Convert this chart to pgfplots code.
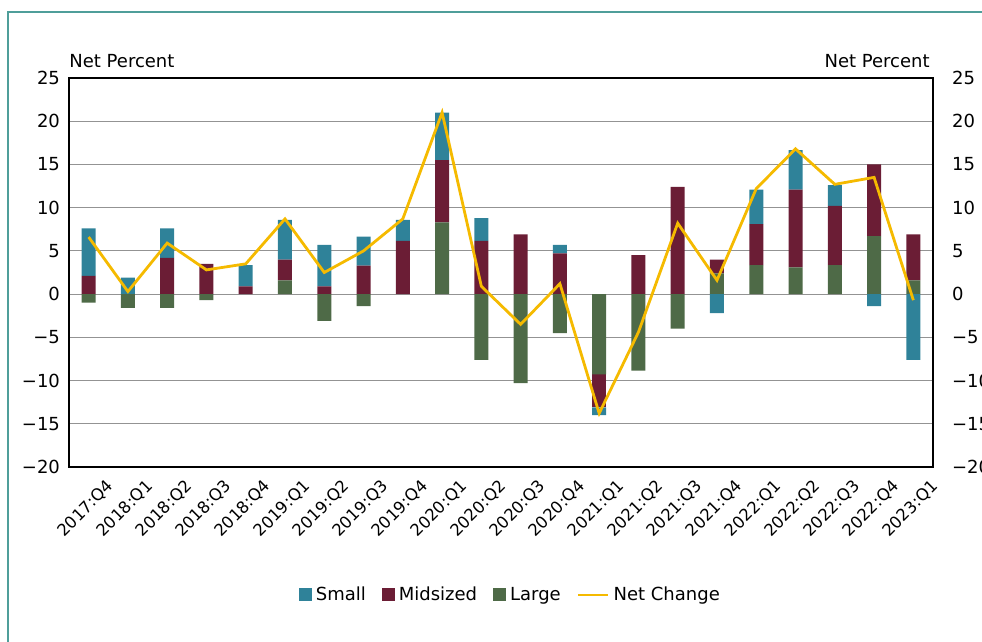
\documentclass[border=0pt]{standalone}
\usepackage{fontspec}
\setmainfont{DejaVu Sans}
\usepackage{pgfplots}
\usepackage{pgfplotstable}
\pgfplotsset{compat=1.18}

\definecolor{cSmall}{HTML}{2F8299}
\definecolor{cMid}{HTML}{6B1D35}
\definecolor{cLarge}{HTML}{4E6A47}
\definecolor{cNet}{HTML}{F5BA00}
\definecolor{cFrame}{HTML}{4F9E9A}

% net percent by bank size; L = large, M = midsized, S = small, N = net change
\pgfplotstableread{
x q       L     M     S     N
0 2017:Q4 -1.0  2.1   5.5   6.6
1 2018:Q1 -1.6  0.0   1.9   0.3
2 2018:Q2 -1.6  4.2   3.4   5.9
3 2018:Q3 -0.7  3.5   0.0   2.8
4 2018:Q4  0.0  0.9   2.45  3.5
5 2019:Q1  1.6  2.4   4.6   8.7
6 2019:Q2 -3.1  0.9   4.8   2.5
7 2019:Q3 -1.4  3.3   3.35  5.0
8 2019:Q4  0.0  6.15  2.45  8.7
9 2020:Q1  8.3  7.2   5.5   21.0
10 2020:Q2 -7.6 6.15  2.65  0.9
11 2020:Q3 -10.3 6.9  0.0  -3.5
12 2020:Q4 -4.5 4.7   1.0   1.2
13 2021:Q1 -9.3 -3.8 -0.9 -13.8
14 2021:Q2 -8.85 4.5  0.0  -4.4
15 2021:Q3 -4.0 12.4  0.0   8.2
16 2021:Q4  2.4 1.6  -2.2   1.6
17 2022:Q1  3.35 4.75 4.0  12.2
18 2022:Q2  3.1  9.0  4.55 16.8
19 2022:Q3  3.35 6.85 2.4  12.7
20 2022:Q4  6.7  8.3 -1.4  13.5
21 2023:Q1  1.6  5.3 -7.6  -0.7
}\data

\pgfplotsset{
  base/.style={
    at={(34.5pt,87.5pt)}, anchor=south west,
    width=432pt, height=194.5pt, scale only axis,
    xmin=-0.5, xmax=21.5, ymin=-20, ymax=25,
    xtick={0,...,21}, ytick={-20,-15,...,25},
    yticklabels={−20,−15,−10,−5,0,5,10,15,20,25},
    tick style={draw=none},
    axis line style={black, line width=0.6pt},
    ticklabel style={font=\fontsize{9}{10}\selectfont},
    clip=false,
  },
  bars/.style={ybar stacked, bar width=7pt},
}

\begin{document}
\begin{tikzpicture}
% positive parts
\begin{axis}[base, bars,
  ymajorgrids, grid style={gray!85, line width=0.5pt},
  xticklabels from table={\data}{q},
  x tick label style={rotate=45, anchor=north east, inner sep=0pt,
    font=\fontsize{8.2}{9}\selectfont, xshift=2pt, yshift=-10pt},
  yticklabel style={xshift=-1pt},
]
\addplot[fill=cLarge, draw=none] table[x=x, y expr={max(\thisrow{L},0)}] {\data};
\addplot[fill=cMid, draw=none] table[x=x, y expr={max(\thisrow{M},0)}] {\data};
\addplot[fill=cSmall, draw=none] table[x=x, y expr={max(\thisrow{S},0)}] {\data};
\node[anchor=base west, font=\fontsize{9}{10}\selectfont, inner sep=0pt] at (rel axis cs:0,1) [yshift=5pt] {Net Percent};
\end{axis}
% negative parts
\begin{axis}[base, bars, hide axis]
\addplot[fill=cLarge, draw=none] table[x=x, y expr={min(\thisrow{L},0)}] {\data};
\addplot[fill=cMid, draw=none] table[x=x, y expr={min(\thisrow{M},0)}] {\data};
\addplot[fill=cSmall, draw=none] table[x=x, y expr={min(\thisrow{S},0)}] {\data};
\end{axis}
% net change line, right axis, legend
\begin{axis}[base,
  xticklabels={},
  yticklabel pos=right,
  yticklabel style={xshift=6pt},
  legend columns=4,
  legend style={draw=none, fill=none, at={(rel axis cs:0.512,-0.329)}, anchor=center,
    font=\fontsize{9}{10}\selectfont,
    /tikz/every even column/.append style={column sep=6pt}},
  legend image code/.code={\fill[#1] (0pt,-3.25pt) rectangle (6.5pt,3.25pt);},
]
\addplot[cNet, line width=1.4pt, forget plot] table[x=x, y=N] {\data};
\addlegendimage{fill=cSmall, draw=none}
\addlegendentry{Small}
\addlegendimage{fill=cMid, draw=none}
\addlegendentry{Midsized}
\addlegendimage{fill=cLarge, draw=none}
\addlegendentry{Large}
\addlegendimage{legend image code/.code={\draw[cNet, line width=1.4pt] (0pt,0pt) -- (15pt,0pt);}}
\addlegendentry{Net Change}
\node[anchor=base east, font=\fontsize{9}{10}\selectfont, inner sep=0pt] at (rel axis cs:1,1) [yshift=5pt, xshift=-1.5pt] {Net Percent};
\end{axis}
\draw[cFrame, line width=1pt] (4pt,-20pt) rectangle (520pt,315pt);
\pgfresetboundingbox
\useasboundingbox (0,0) rectangle (491pt,321pt);
\end{tikzpicture}
\end{document}
